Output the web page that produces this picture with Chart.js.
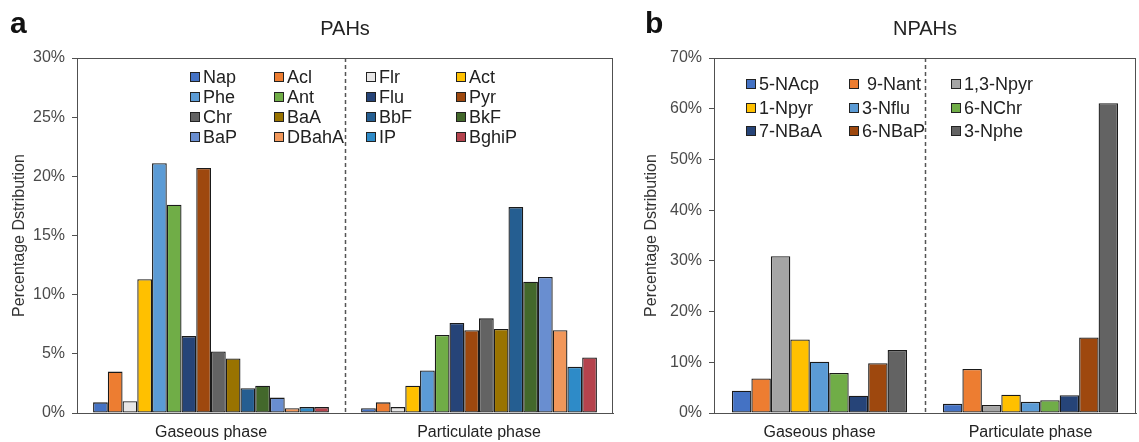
<!DOCTYPE html>
<html>
<head>
<meta charset="utf-8">
<script src="https://cdn.jsdelivr.net/npm/chart.js@4.4.1/dist/chart.umd.min.js"></script>
<style>
    body { margin: 0; background: #fff; }
    #wrap { position: relative; width: 1139px; height: 442px; }
    .box { position: absolute; top: 0; height: 442px; }
</style>
</head>
<body>
<div id="wrap">
    <div class="box" style="left:0;width:630px"><canvas id="pahChart"></canvas></div>
    <div class="box" style="left:630px;width:509px"><canvas id="npahChart"></canvas></div>
</div>
<script>
const phases = ['Gaseous phase', 'Particulate phase'];

const pahLabels = ['Nap', 'Acl', 'Flr', 'Act', 'Phe', 'Ant', 'Flu', 'Pyr', 'Chr', 'BaA', 'BbF', 'BkF', 'BaP', 'DBahA', 'IP', 'BghiP'];
const pahGas = [0.9, 3.5, 1.0, 11.3, 21.1, 17.6, 6.5, 20.7, 5.2, 4.6, 2.1, 2.3, 1.3, 0.4, 0.5, 0.5];
const pahPart = [0.4, 0.9, 0.5, 2.3, 3.6, 6.6, 7.6, 7.0, 8.0, 7.1, 17.4, 11.1, 11.5, 7.0, 3.9, 4.7];
const pahColors = ['#4472C4', '#ED7D31', '#E7E6E6', '#FFC000', '#5B9BD5', '#70AD47', '#264478', '#9E480E',
    '#636363', '#997300', '#255E91', '#43682B', '#698ED0', '#F1975A', '#2E8BC8', '#B5434D'];

const npahLabels = ['5-NAcp', ' 9-Nant', '1,3-Npyr', '1-Npyr', '3-Nflu', '6-NChr', '7-NBaA', '6-NBaP', '3-Nphe'];
const npahGas = [4.4, 6.8, 30.9, 14.5, 10.1, 7.9, 3.4, 9.8, 12.4];
const npahPart = [1.8, 8.7, 1.6, 3.6, 2.2, 2.5, 3.5, 14.9, 61.1];
const npahColors = ['#4472C4', '#ED7D31', '#A5A5A5', '#FFC000', '#5B9BD5', '#70AD47', '#264478', '#9E480E', '#636363'];

const FONT = "'Liberation Sans', Arial, sans-serif";

// frame, dashed divider, panel letter, title and a column legend
const panelDecor = {
    id: 'panelDecor',
    afterDraw(chart, args, opts) {
        const ctx = chart.ctx;
        const a = chart.chartArea;
        ctx.save();

        ctx.strokeStyle = '#555';
        ctx.lineWidth = 1.5;
        ctx.setLineDash([4, 3]);
        const mid = Math.round((a.left + a.right) / 2) + 0.5;
        ctx.beginPath();
        ctx.moveTo(mid, a.top);
        ctx.lineTo(mid, a.bottom);
        ctx.stroke();
        ctx.setLineDash([]);

        ctx.strokeStyle = '#505050';
        ctx.lineWidth = 1;
        ctx.strokeRect(a.left + 0.5, a.top + 0.5, a.right - a.left - 1, a.bottom - a.top);

        ctx.fillStyle = '#111';
        ctx.font = 'bold 30px ' + FONT;
        ctx.textAlign = 'left';
        ctx.textBaseline = 'alphabetic';
        ctx.fillText(opts.letter, opts.letterX, 33);

        ctx.font = '20px ' + FONT;
        ctx.textAlign = 'center';
        ctx.fillStyle = '#222';
        ctx.fillText(opts.title, (a.left + a.right) / 2, 35);

        ctx.font = '18px ' + FONT;
        ctx.textAlign = 'left';
        ctx.textBaseline = 'middle';
        chart.data.datasets.forEach((ds, i) => {
            const col = i % opts.cols.length;
            const row = Math.floor(i / opts.cols.length);
            const x = opts.cols[col];
            const y = opts.rows[row];
            ctx.fillStyle = ds.backgroundColor;
            ctx.fillRect(x, y - 5, 10, 10);
            ctx.strokeStyle = '#222';
            ctx.strokeRect(x + 0.5, y - 4.5, 9, 9);
            ctx.fillStyle = '#222';
            ctx.fillText(ds.label, x + 13, y + 1);
        });
        ctx.restore();
    }
};

function makeChart(id, labels, gas, part, colors, o) {
    const datasets = labels.map((name, i) => ({
        label: name,
        data: [gas[i], part[i]],
        backgroundColor: colors[i],
        borderColor: '#1a1a1a',
        borderWidth: 1.3,
        borderSkipped: false,
        categoryPercentage: o.catPct,
        barPercentage: 1
    }));
    return new Chart(document.getElementById(id), {
        type: 'bar',
        data: { labels: phases, datasets: datasets },
        plugins: [panelDecor],
        options: {
            responsive: true,
            maintainAspectRatio: false,
            animation: false,
            layout: { padding: { left: o.padLeft, right: o.padRight, top: 58, bottom: 0 } },
            plugins: {
                legend: { display: false },
                tooltip: { enabled: false },
                panelDecor: o.decor
            },
            scales: {
                x: {
                    grid: { display: false, drawTicks: false },
                    border: { display: true, color: '#505050' },
                    ticks: { color: '#222', font: { family: FONT, size: 16 }, padding: 10 },
                    afterFit(scale) { scale.height = 29; }
                },
                y: {
                    min: 0,
                    max: o.max,
                    ticks: {
                        stepSize: o.step,
                        color: '#4a4a4a',
                        padding: 7,
                        font: { family: FONT, size: 16 },
                        callback: v => v + '%'
                    },
                    grid: { drawOnChartArea: false, drawTicks: true, tickLength: 5, color: '#505050' },
                    border: { display: true, color: '#505050' },
                    title: {
                        display: true,
                        text: 'Percentage Dstribution',
                        color: '#333',
                        font: { family: FONT, size: 16 },
                        padding: { top: o.titlePad, bottom: 0 }
                    },
                    afterFit(scale) { scale.width = 77; }
                }
            }
        }
    });
}

makeChart('pahChart', pahLabels, pahGas, pahPart, pahColors, {
    catPct: 0.88, padLeft: 0, padRight: 17, max: 30, step: 5, titlePad: 10,
    decor: { letter: 'a', letterX: 10, title: 'PAHs', cols: [190, 274, 366, 456], rows: [77, 97, 117, 137] }
});

makeChart('npahChart', npahLabels, npahGas, npahPart, npahColors, {
    catPct: 0.83, padLeft: 7, padRight: 3, max: 70, step: 10, titlePad: 5,
    decor: { letter: 'b', letterX: 15, title: 'NPAHs', cols: [116, 219, 321], rows: [84, 108, 131] }
});
</script>
</body>
</html>
